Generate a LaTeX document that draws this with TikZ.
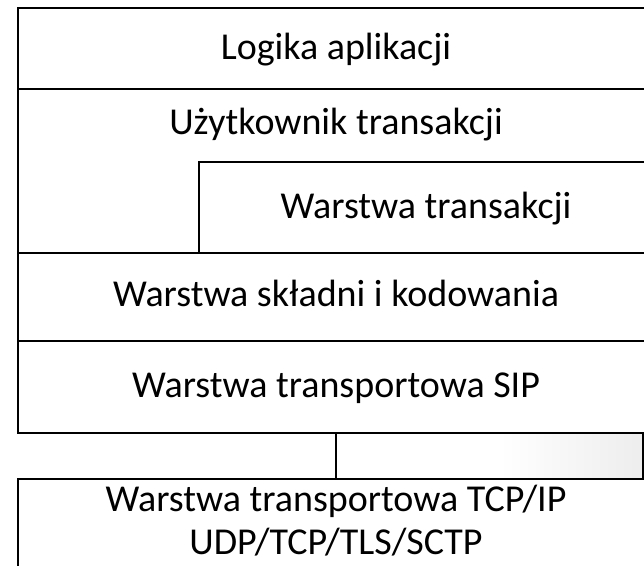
\documentclass[tikz,border=0pt]{standalone}
\usepackage{fontspec}
\setmainfont{Carlito}
\begin{document}
\begin{tikzpicture}[x=1pt,y=-1pt,line width=2pt,
  layer/.style={font=\fontsize{38}{45}\selectfont,anchor=base,inner sep=0pt}]
  \useasboundingbox (0,0) rectangle (644,565);
  % corners of the stack
  \coordinate (TL) at (18,7.5);
  \coordinate (TR) at (644,7.5);
  \coordinate (SL) at (18,432.5);
  \coordinate (SR) at (644,432.5);
  \coordinate (sip) at (336,432.5);
  \coordinate (tcp) at (336,479);
  % faint shadow at the right
  \shade[left color=white,right color=black!7] (500,434) rectangle (642,478);
  \draw (TR) -- (TL) -- (SL) -- (SR);
  \draw (18,89) -- (644,89);
  \draw (199,252.5) -- (199,162) -- (644,162);
  \draw (18,252.5) -- (644,252.5);
  \draw (18,341) -- (644,341);
  \draw (18,566) -- (18,479) -- (644,479);
  \draw (643,432.5) -- (643,479);
  \draw (sip) -- (tcp);
  \node[layer] (app) at (336,59) {Logika aplikacji};
  \node[layer] (tu) at (336,134.5) {Użytkownik transakcji};
  \node[layer] (trans) at (426,218) {Warstwa transakcji};
  \node[layer] (syntax) at (336,306.5) {Warstwa składni i kodowania};
  \node[layer] (siptr) at (336,397) {Warstwa transportowa SIP};
  \node[layer] (tcpip) at (336,511) {Warstwa transportowa TCP/IP};
  \node[layer] (udp) at (336,554) {UDP/TCP/TLS/SCTP};
\end{tikzpicture}
\end{document}
